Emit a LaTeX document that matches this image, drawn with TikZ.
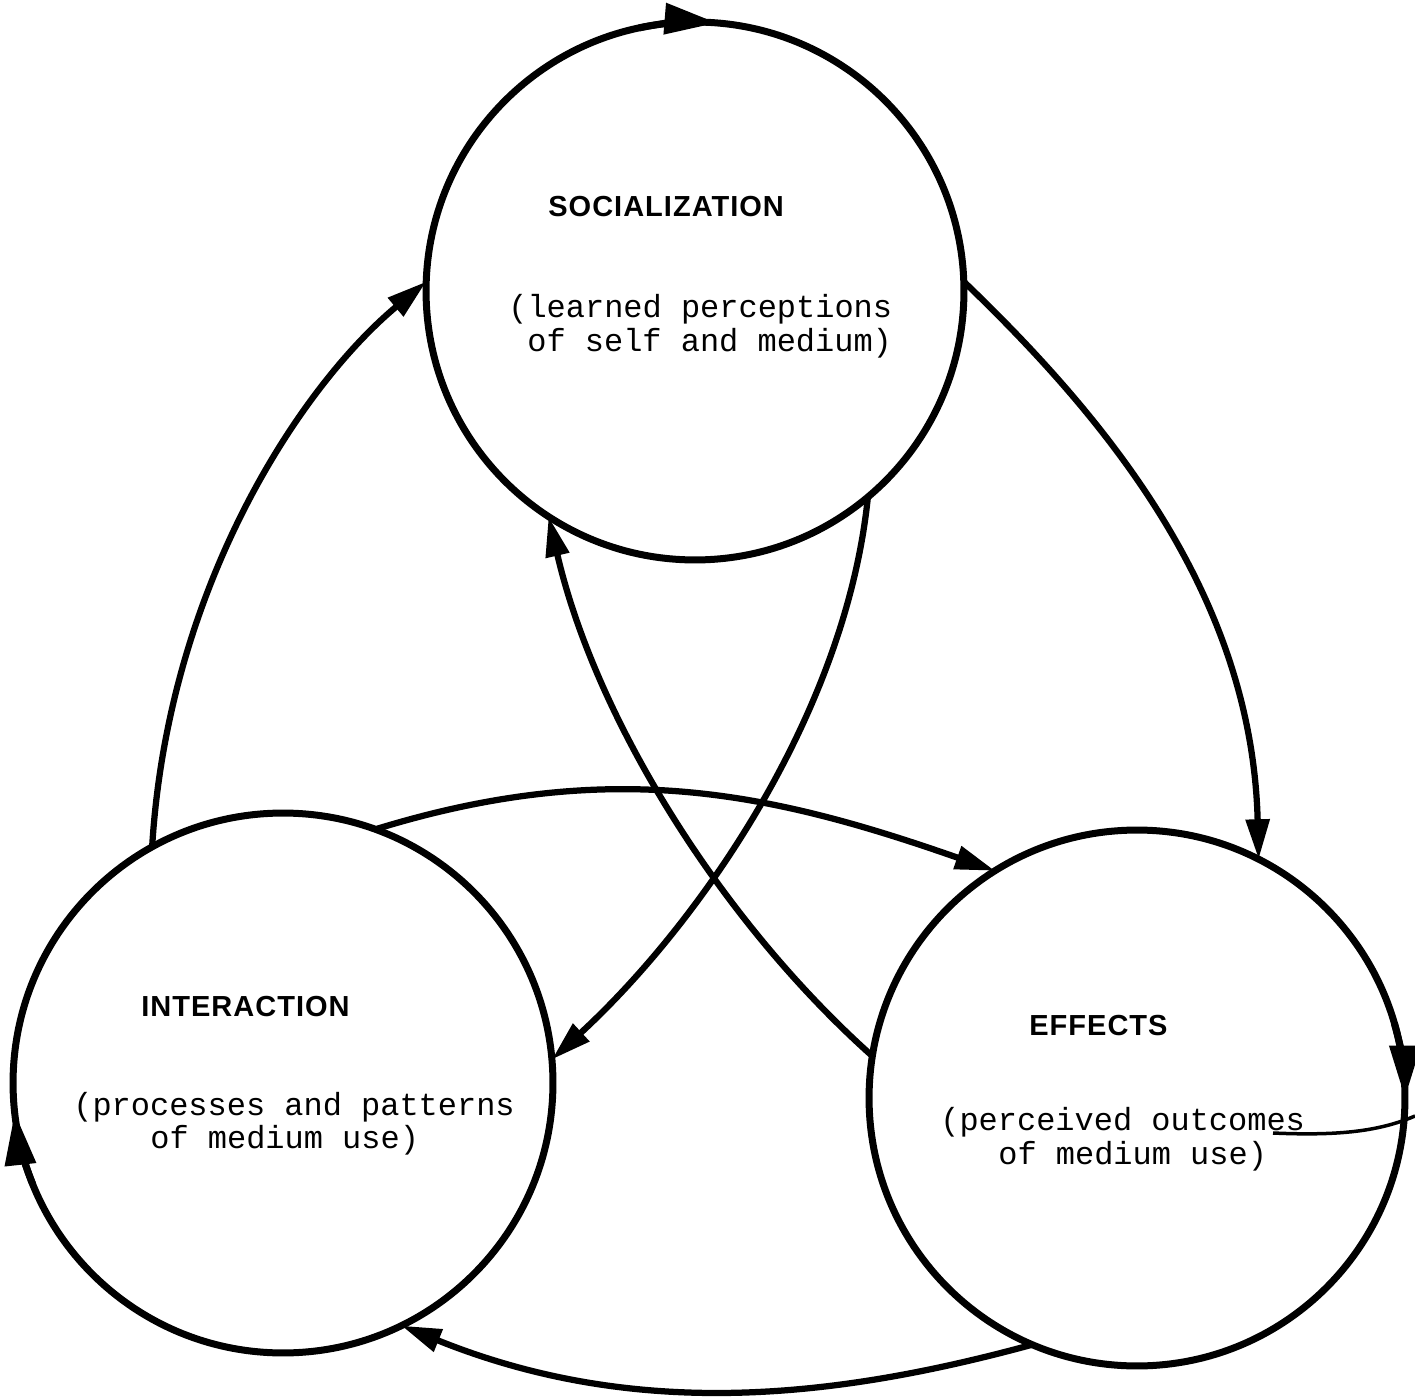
\documentclass[tikz,border=0pt]{standalone}
\usepackage{fontspec}
\usetikzlibrary{arrows.meta}
\newfontfamily\subfont{Liberation Mono}
\newfontfamily\headfont{Liberation Sans}[LetterSpace=3.5]
\begin{document}
\begin{tikzpicture}[x=0.02cm,y=0.02cm,
  ring/.style={circle, draw, line width=0.14cm, inner sep=0pt, outer sep=0pt},
  conn/.style={line width=0.125cm, -{Triangle[length=0.8cm,width=0.46cm]}},
  ringtip/.style={line width=0.14cm, -{Triangle[length=1.05cm,width=0.6cm]}},
  head/.style={font=\headfont\bfseries\fontsize{16.5}{18}\selectfont, anchor=base west, inner sep=0pt},
  sub/.style={font=\subfont\fontsize{18.2}{20}\selectfont, anchor=base west, inner sep=0pt},
  stray/.style={line width=0.07cm}
]
\fill[white] (0,0) rectangle (1415,1397);
\useasboundingbox (0,0) rectangle (1415,1397);

% circles
\node[ring, minimum size=10.76cm] (soc) at (695,1106) {};
\node[ring, minimum size=10.8cm] (int) at (283,314) {};
\node[ring, minimum size=10.72cm] (eff) at (1137,299) {};

% arrowheads on the circles (clockwise)
\draw[ringtip] (soc.102) arc[start angle=102, end angle=85.3, radius=5.38cm];
\draw[ringtip] (int.202) arc[start angle=202, end angle=186.3, radius=5.4cm];
\draw[ringtip] (eff.16) arc[start angle=16, end angle=0, radius=5.36cm];

% headings
\node[head] (socT) at (548,1180) {SOCIALIZATION};
\node[head] (intT) at (141,381) {INTERACTION};
\node[head] (effT) at (1029,362) {EFFECTS};

% descriptions
\node[sub] (socA) at (508,1079) {(learned perceptions};
\node[sub] (socB) at (527,1045) {of self and medium)};
\node[sub] (intA) at (73,282) {(processes and patterns};
\node[sub] (intB) at (150,249) {of medium use)};
\node[sub] (effA) at (940,267) {(perceived outcomes};
\node[sub] (effB) at (998,233) {of medium use)};

% connectors
\draw[conn] (int.119.5) .. controls (168,810) and (300,1010) .. (soc.178);
\draw[conn] (soc.2.3) .. controls (1110,975) and (1252,800) .. (eff.63);
\draw[conn] (int.70.8) .. controls (610,640) and (770,605) .. (eff.122);
\draw[conn] (eff.247) .. controls (840,0) and (640,-25) .. (int.296.2);
\draw[conn] (eff.171.7) .. controls (719,478) and (595,680) .. (soc.237.5);
\draw[conn] (soc.310) .. controls (846,685) and (701,475) .. (int.5.7);

% stray stroke at the right edge
\coordinate (s1) at (1273,264);
\coordinate (s2) at (1415,281);
\draw[stray] (s1) .. controls (1340,261) and (1380,266) .. (s2);
\end{tikzpicture}
\end{document}
